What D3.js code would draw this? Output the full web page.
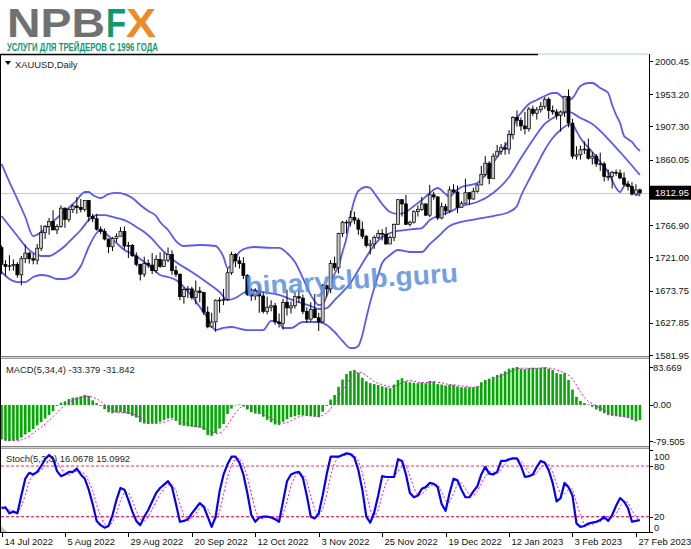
<!DOCTYPE html>
<html><head><meta charset="utf-8">
<script src="https://cdn.jsdelivr.net/npm/d3@7"></script>
<style>
html,body{margin:0;padding:0;background:#fff;}
svg{display:block;}
text{font-family:"Liberation Sans",Arial,sans-serif;}
</style></head><body>
<svg id="c" width="691" height="549"></svg>
<script>
// ---------- DATA ----------
const dateLabels = ["14 Jul 2022","5 Aug 2022","29 Aug 2022","20 Sep 2022","12 Oct 2022","3 Nov 2022","25 Nov 2022","19 Dec 2022","12 Jan 2023","3 Feb 2023","27 Feb 2023"];
const dateLabelBars = [0,16,32,48,64,80,96,112,128,144,160];

const open = [1735,1711,1708,1709,1711,1696,1719,1727,1719,1717,
1734,1756,1765,1772,1760,1765,1791,1775,1789,1794,
1792,1789,1802,1779,1776,1761,1758,1747,1736,1748,
1751,1758,1737,1738,1723,1711,1697,1712,1710,1702,
1718,1708,1717,1725,1702,1697,1665,1675,1676,1664,
1673,1671,1643,1622,1629,1660,1660,1661,1699,1725,
1716,1712,1695,1668,1666,1673,1666,1644,1650,1652,
1629,1627,1657,1649,1652,1665,1663,1644,1633,1647,
1635,1629,1681,1676,1712,1706,1755,1771,1771,1778,
1774,1761,1751,1738,1740,1749,1755,1754,1740,1749,
1768,1803,1797,1768,1771,1786,1789,1797,1781,1810,
1807,1777,1793,1787,1817,1814,1792,1798,1813,1804,
1815,1824,1839,1855,1833,1865,1872,1877,1875,1896,
1920,1916,1908,1904,1932,1926,1931,1936,1946,1930,
1928,1923,1928,1950,1912,1865,1867,1874,1875,1862,
1865,1854,1854,1836,1836,1842,1841,1834,1825,1822,
1811,1817];
const high = [1738,1717,1724,1718,1714,1723,1739,1729,1726,1740,
1767,1767,1777,1788,1768,1795,1792,1791,1796,1807,
1804,1802,1802,1783,1783,1765,1762,1748,1750,1755,
1764,1765,1743,1740,1728,1712,1722,1718,1727,1724,
1728,1728,1735,1731,1709,1698,1678,1680,1679,1688,
1679,1672,1651,1642,1661,1664,1676,1705,1729,1727,
1722,1721,1697,1677,1677,1682,1671,1665,1660,1656,
1641,1662,1675,1658,1671,1674,1668,1650,1657,1669,
1642,1683,1682,1717,1722,1756,1773,1774,1787,1786,
1777,1772,1753,1746,1752,1760,1761,1764,1752,1769,
1804,1804,1810,1773,1788,1795,1807,1798,1824,1814,
1808,1799,1797,1822,1825,1823,1801,1833,1814,1820,
1826,1851,1865,1858,1869,1881,1882,1885,1902,1922,
1930,1920,1928,1935,1937,1935,1942,1949,1949,1937,
1932,1930,1951,1960,1918,1879,1880,1886,1890,1871,
1868,1870,1857,1846,1844,1846,1846,1842,1830,1828,
1825,1819];
const low = [1697,1695,1702,1702,1692,1681,1713,1712,1711,1711,
1730,1747,1753,1760,1754,1763,1763,1771,1784,1783,
1785,1786,1772,1771,1759,1754,1745,1727,1730,1743,
1751,1732,1720,1722,1708,1688,1693,1706,1697,1699,
1706,1707,1714,1696,1693,1660,1655,1663,1661,1654,
1657,1639,1620,1621,1615,1642,1653,1659,1696,1707,
1705,1690,1666,1659,1660,1642,1641,1640,1644,1625,
1621,1618,1638,1641,1648,1656,1640,1628,1630,1635,
1616,1628,1665,1670,1702,1698,1750,1755,1765,1768,
1753,1747,1735,1725,1733,1747,1745,1739,1740,1744,
1767,1779,1767,1765,1769,1779,1787,1780,1778,1803,
1774,1775,1781,1784,1812,1784,1792,1797,1796,1803,
1813,1824,1836,1825,1833,1865,1867,1867,1868,1889,
1907,1901,1896,1900,1922,1917,1927,1932,1918,1924,
1917,1900,1921,1906,1861,1860,1860,1868,1860,1853,
1850,1844,1829,1830,1819,1837,1832,1822,1816,1809,
1808,1810];
const close = [1711,1708,1709,1711,1696,1719,1727,1719,1717,1734,
1756,1765,1772,1760,1765,1791,1775,1789,1794,1792,
1789,1802,1779,1776,1761,1758,1747,1736,1748,1751,
1758,1737,1738,1723,1711,1697,1712,1710,1702,1718,
1708,1717,1725,1702,1697,1665,1675,1676,1664,1673,
1671,1643,1622,1629,1660,1660,1661,1699,1725,1716,
1712,1695,1668,1666,1673,1666,1644,1650,1652,1629,
1627,1657,1649,1652,1665,1663,1644,1633,1647,1635,
1629,1681,1676,1712,1706,1755,1771,1771,1778,1774,
1761,1751,1738,1740,1749,1755,1754,1740,1749,1768,
1803,1797,1768,1771,1786,1789,1797,1781,1810,1807,
1777,1793,1787,1817,1814,1792,1798,1813,1804,1815,
1824,1839,1855,1833,1865,1872,1877,1875,1896,1920,
1916,1908,1904,1932,1926,1931,1936,1946,1930,1928,
1923,1928,1950,1912,1865,1867,1874,1875,1862,1865,
1854,1854,1836,1836,1842,1841,1834,1825,1822,1811,
1817,1812.95];

// Bollinger bands, read at selected bars
const upperBars = [0,2,4,6,8,10,12,14,16,18,19,20,21,22,23,24,25,27,29,31,33,35,37,39,40,42,44,46,50,54,55,56,57,58,59,60,62,64,68,70,72,74,76,78,80,81,82,83,84,85,86,87,88,89,90,92,93,94,96,98,100,102,104,106,108,110,112,113,114,116,118,120,122,124,126,128,130,131,133,135,137,139,140,142,143,144,146,148,149,151,153,154,155,156,157,158,159,160,161];
const bandUpper = [1853.9,1828.2,1804.0,1778.4,1751.3,1757.0,1767.0,1777.0,1786.9,1796.9,
1802.6,1809.7,1814.0,1814.0,1809.7,1806.9,1805.4,1811.1,1812.6,1811.1,
1805.4,1795.5,1786.9,1779.8,1771.3,1759.9,1744.2,1737.1,1738.5,1737.1,
1731.4,1721.4,1705.8,1710.0,1720.0,1728.6,1734.3,1735.7,1734.3,1734.3,
1727.1,1714.3,1691.5,1667.4,1653.1,1654.5,1665.9,1681.6,1697.3,1708.6,
1728.6,1748.5,1779.8,1802.6,1815.4,1821.1,1819.7,1812.6,1796.9,1785.5,
1782.7,1785.5,1794.1,1802.6,1812.6,1819.7,1811.1,1806.9,1812.6,1821.1,
1823.9,1826.8,1838.2,1855.3,1872.3,1888.0,1919.3,1926.4,1939.2,1944.9,
1950.6,1954.9,1954.9,1946.4,1944.9,1947.8,1964.9,1969.1,1969.1,1962.0,
1954.9,1937.8,1923.6,1912.2,1893.7,1889.4,1885.2,1878.0,1872.3];
const middleBars = [0,2,4,6,8,10,12,14,16,18,20,22,24,26,28,30,32,34,36,38,40,44,48,52,55,57,59,61,63,66,70,74,78,80,82,84,86,88,90,92,94,96,98,100,104,106,108,110,113,116,120,124,128,131,134,137,140,143,146,149,153,156,158,161];
const bandMiddle = [1779.8,1765.6,1751.3,1737.1,1727.1,1722.9,1722.9,1728.6,1737.1,1748.5,
1759.9,1774.1,1781.2,1781.2,1778.4,1775.6,1771.3,1764.2,1757.0,1747.1,
1734.3,1714.3,1700.1,1684.4,1671.6,1660.2,1663.1,1670.2,1674.5,1671.6,
1667.4,1658.8,1651.7,1647.4,1648.8,1660.2,1671.6,1684.4,1703.0,1721.4,
1738.5,1749.9,1755.6,1758.5,1761.3,1762.7,1774.1,1779.8,1785.5,1794.1,
1799.7,1812.6,1835.3,1862.4,1888.0,1910.8,1922.2,1927.9,1919.3,1910.8,
1889.4,1870.9,1858.1,1838.2];
const lowerBars = [0,2,4,6,8,10,12,14,16,18,20,22,24,25,27,29,31,33,35,37,39,40,42,44,46,48,50,52,53,54,56,58,62,66,68,70,71,73,76,80,82,84,86,88,89,90,91,92,93,94,95,96,98,100,103,106,108,110,113,116,120,124,128,130,131,133,135,137,139,141,143,144,145,146,149,151,153,155,156,157,158,159,160,161];
const bandLower = [1700.1,1690.1,1685.8,1685.8,1693.0,1695.8,1694.4,1690.1,1690.1,1694.4,
1708.6,1735.7,1755.6,1759.9,1751.3,1741.4,1731.4,1725.7,1718.6,1710.0,
1700.1,1695.8,1693.0,1688.7,1678.7,1665.9,1650.3,1634.6,1623.2,1617.5,
1620.4,1621.8,1617.5,1617.5,1630.4,1628.9,1620.4,1620.4,1628.9,1628.9,
1624.7,1614.7,1601.9,1591.9,1591.9,1594.8,1610.4,1634.6,1657.4,1677.3,
1695.8,1712.9,1724.3,1731.4,1728.6,1728.6,1739.9,1749.9,1765.6,1771.3,
1775.6,1779.8,1785.5,1794.1,1808.3,1831.0,1852.4,1873.8,1890.9,1902.2,
1909.4,1909.4,1900.8,1890.9,1870.9,1856.7,1842.4,1819.7,1814.0,1822.5,
1825.4,1818.2,1812.6,1808.3];

const macdMain = [-76,-79,-79.505,-79,-78,-72,-65,-60,-53,-45,
-38,-30,-22,-14,-2,5,8,13,16,17,
19,22,20,10,4,-2,-9,-16,-18,-17,
-16,-18,-20,-24,-28,-38,-41,-42,-41,-40,
-37,-33,-30,-29,-35,-44,-46,-47,-48,-49,
-50,-55,-66,-68,-62,-52,-42,-20,-8,0,
1,-3,-10,-16,-19,-20,-26,-33,-38,-43,
-44,-37,-31,-27,-25,-22,-23,-24,-25,-26,
-27,-15,-2,12,22,40,56,68,75,77,
71,60,52,48,46,44,41,39,37,45,
55,59,52,50,49,48,50,48,53,52,
46,45,43,45,44,41,39,39,39,39,
41,50,55,58,62,66,69,74,80,82,
83.669,80,79,81,82,81,82,83,80,77,
70,68,70,55,34,18,9,4,1,-4,
-10,-14,-18,-22,-24,-25,-26,-27,-29,-33,
-36,-33.379];
const macdSignal = [-70,-74,-77,-78.5,-79,-77,-73.5,-69,-62,-56,
-49,-42,-34,-26,-17,-8,-1,6,10,13,
16,18.5,19.5,17,14,8,1,-6,-11,-15,
-17,-17,-18,-19.5,-22.5,-27.5,-33,-37,-40.5,-41,
-40,-38,-35,-32,-32,-34.5,-38.5,-43,-46,-47.5,
-48.5,-50.5,-55,-60,-63,-62,-56,-44,-30.5,-17.5,
-7,-2.5,-3,-7,-12,-16.5,-20,-24.5,-29,-35,
-39.5,-40.5,-39,-35,-30,-26,-24,-23.5,-23.5,-24.5,
-25.5,-23,-17.5,-8,4,18,32.5,46.5,60,69,
73,71,65,58,51.5,47.5,45,42.5,40,40.5,
44,49,53,54,52.5,50,49,49,50,51,
50,49,46.5,45,44.5,43.5,42,41,39.5,39,
39.5,42,46,51,56,60,64,68,72,76,
80,81,81,81,80.5,81,81.5,82,81.5,80.5,
77.5,74,71,66,57,44,29,16,8,2.5,
-2,-7,-11.5,-16,-19.5,-22,-24,-25.5,-26.5,-28.5,
-31,-31.842];

const stochK = [30,31,24,26,24,45,65,72,70,73,
80,88,93,89,74,68,70,73,73,77,
70,65,52,35,15,10,7,9,22,40,
54,52,40,26,15,10,20,28,38,48,
54,58,62,55,35,14,15,17,24,30,
36,32,20,8,20,50,70,82,91,91,
84,70,48,22,14,19,20,20,19,17,
14,38,62,70,72,73,66,45,20,18,
24,45,70,91,91,91,93,95,94,90,
75,52,20,13,25,45,68,67,67,67,
88,86,70,48,43,45,53,55,60,59,
55,35,27,48,65,63,52,43,43,50,
56,70,79,71,70,73,86,86,88,89,
89,80,67,68,70,79,86,84,75,60,
38,42,60,55,45,12,8,9,12,13,
14,16,20,15,22,33,42,38,30,14,
15,16.0678];
const stochD = [32,30,28,27,25,32,46,62,70,72,
75,81,87,90,85,77,71,70,72,74,
73,71,62,51,34,20,11,9,13,24,
39,49,49,39,27,17,15,19,29,38,
47,53,58,58,51,35,21,15,19,24,
30,33,29,20,16,26,47,67,81,88,
89,82,67,47,28,18,18,20,20,19,
17,23,38,57,68,72,70,62,44,28,
21,29,46,69,84,91,92,93,94,93,
86,72,49,28,19,28,46,60,67,67,
74,80,81,68,54,45,47,51,56,58,
58,50,39,37,47,59,60,53,46,45,
50,59,68,73,73,71,76,82,87,88,
89,86,79,72,68,72,78,83,82,73,
58,47,47,52,53,37,22,10,10,11,
13,14,17,17,19,23,32,38,37,27,
20,15.0992];

const priceTicks = [2000.45,1953.20,1907.30,1860.05,1766.90,1721.00,1673.75,1627.85,1581.95];
const currentPrice = 1812.95;
const macdTicks = [83.669,0,-79.505];
const macdTickText = ["83.669","0.00","-79.505"];
const stochTicks = [100,80,20,0];
const stochLevels = [80,20];

// ---------- LAYOUT ----------
const svg = d3.select("#c");
const AX = 649;
const x = d3.scaleLinear().domain([0,161]).range([1.5,639.9]);
const yP = d3.scaleLinear().domain([1581.95,2000.45]).range([355,61]);
const yM = d3.scaleLinear().domain([-79.505,83.669]).range([441,367]);
const yS = d3.scaleLinear().domain([0,100]).range([533.6,449.1]);
const FONT = 9.4;
const bars = d3.range(close.length);

const defs = svg.append("defs");
defs.append("clipPath").attr("id","cm").append("rect").attr("x",1).attr("y",55).attr("width",AX-1).attr("height",301);
defs.append("clipPath").attr("id","cd").append("rect").attr("x",1).attr("y",359).attr("width",AX-1).attr("height",87);
defs.append("clipPath").attr("id","cs").append("rect").attr("x",1).attr("y",449).attr("width",AX-1).attr("height",84);

// ---------- LOGO ----------
const logo = svg.append("text").attr("y",37).attr("font-family","DejaVu Sans").attr("font-weight","bold").attr("font-size",41);
logo.append("tspan").attr("x",7).attr("fill","#717171").attr("textLength",98).attr("lengthAdjust","spacingAndGlyphs").text("NPB");
logo.append("tspan").attr("x",106).attr("fill","#0e9a6c").attr("textLength",20).attr("lengthAdjust","spacingAndGlyphs").text("F");
logo.append("tspan").attr("x",126).attr("fill","#f08a24").attr("textLength",30).attr("lengthAdjust","spacingAndGlyphs").text("X");
svg.append("text").attr("x",7).attr("y",50.5).attr("font-weight","bold").attr("font-size",10.5)
  .attr("fill","#0e9a6c").attr("textLength",151).attr("lengthAdjust","spacingAndGlyphs").text("УСЛУГИ ДЛЯ ТРЕЙДЕРОВ С 1996 ГОДА");

// ---------- FRAME ----------
svg.append("line").attr("x1",0).attr("x2",538).attr("y1",54.5).attr("y2",54.5).attr("stroke","#000").attr("stroke-width",1.5);
svg.append("line").attr("x1",538).attr("x2",AX).attr("y1",54).attr("y2",54).attr("stroke","#9fd4f2").attr("stroke-width",1);
svg.append("line").attr("x1",0.5).attr("x2",0.5).attr("y1",54).attr("y2",533).attr("stroke","#000");
svg.append("line").attr("x1",AX+0.5).attr("x2",AX+0.5).attr("y1",54).attr("y2",533).attr("stroke","#000");
svg.append("line").attr("x1",0).attr("x2",AX+1).attr("y1",532.5).attr("y2",532.5).attr("stroke","#000");
[356,446].forEach(yy=>{
  svg.append("rect").attr("x",1).attr("y",yy).attr("width",AX-1).attr("height",3).attr("fill","#d4d4d4");
  svg.append("line").attr("x1",1).attr("x2",AX).attr("y1",yy+0.5).attr("y2",yy+0.5).attr("stroke","#808080");
  svg.append("line").attr("x1",1).attr("x2",AX).attr("y1",yy+2.5).attr("y2",yy+2.5).attr("stroke","#a0a0a0");
});

// ---------- MAIN PANEL ----------
const gm = svg.append("g").attr("clip-path","url(#cm)");
gm.append("line").attr("x1",0).attr("x2",AX).attr("y1",Math.round(yP(currentPrice))+0.5).attr("y2",Math.round(yP(currentPrice))+0.5)
  .attr("stroke","#c8c8c8");

const bandLine = (idx, arr) => d3.line().x((d,k)=>x(idx[k])).y(d=>yP(d)).curve(d3.curveMonotoneX)(arr);
[[upperBars,bandUpper],[middleBars,bandMiddle],[lowerBars,bandLower]].forEach(([idx,arr])=>{
  gm.append("path").attr("d",bandLine(idx,arr)).attr("fill","none").attr("stroke","#5a5af5").attr("stroke-width",1.8);
});

const cg = gm.append("g");
bars.forEach(i=>{
  const cx = x(i);
  cg.append("line").attr("x1",cx).attr("x2",cx).attr("y1",yP(high[i])).attr("y2",yP(low[i])).attr("stroke","#000").attr("stroke-width",1);
  const bull = close[i] >= open[i];
  const top = yP(Math.max(open[i],close[i])), bot = yP(Math.min(open[i],close[i]));
  cg.append("rect").attr("x",cx-1.5).attr("y",top).attr("width",3).attr("height",Math.max(0.8,bot-top))
    .attr("fill",bull?"#c8c8c8":"#000").attr("stroke","#000").attr("stroke-width",0.7);
});

// watermark
svg.append("text").attr("transform","translate(246,296) rotate(-3.8)")
  .attr("font-family","DejaVu Sans").attr("font-weight","bold").attr("font-size",27).attr("fill","#5a8ede").attr("fill-opacity",0.85)
  .attr("textLength",213).attr("lengthAdjust","spacingAndGlyphs").text("binaryclub.guru");

// title
svg.append("path").attr("d","M5,61 L11,61 L8,65 Z").attr("fill","#000");
svg.append("text").attr("x",15).attr("y",64).attr("dominant-baseline","central").attr("font-size",FONT).attr("fill","#1e1e1e").text("XAUUSD,Daily");

// price axis
priceTicks.forEach(v=>{
  const yy = yP(v);
  svg.append("line").attr("x1",AX).attr("x2",AX+4).attr("y1",Math.round(yy)+0.5).attr("y2",Math.round(yy)+0.5).attr("stroke","#000");
  svg.append("text").attr("x",655).attr("y",yy).attr("dominant-baseline","central").attr("font-size",FONT).attr("fill","#111").text(d3.format(".2f")(v));
});
svg.append("rect").attr("x",AX+1).attr("y",yP(currentPrice)-7).attr("width",41).attr("height",14).attr("fill","#000");
svg.append("text").attr("x",655).attr("y",yP(currentPrice)).attr("dominant-baseline","central").attr("font-size",FONT).attr("fill","#fff").text(d3.format(".2f")(currentPrice));

// ---------- MACD PANEL ----------
const gd = svg.append("g").attr("clip-path","url(#cd)");
bars.forEach(i=>{
  const v = macdMain[i];
  const y0 = yM(0), y1 = yM(v);
  gd.append("rect").attr("x",x(i)-1.3).attr("y",Math.min(y0,y1)).attr("width",2.6).attr("height",Math.max(0.5,Math.abs(y1-y0))).attr("fill","#00aa00");
});
gd.append("path").attr("d",d3.line().x((d,i)=>x(i)).y(d=>yM(d))(macdSignal)).attr("fill","none")
  .attr("stroke","#ff00ff").attr("stroke-width",1).attr("stroke-dasharray","2,2");
svg.append("text").attr("x",6).attr("y",369).attr("dominant-baseline","central").attr("font-size",FONT).attr("fill","#1e1e1e")
  .text("MACD(5,34,4) " + macdMain[macdMain.length-1].toFixed(3) + " " + macdSignal[macdSignal.length-1].toFixed(3));
macdTicks.forEach((v,k)=>{
  const yy = yM(v);
  svg.append("line").attr("x1",AX).attr("x2",AX+4).attr("y1",Math.round(yy)+0.5).attr("y2",Math.round(yy)+0.5).attr("stroke","#000");
  svg.append("text").attr("x",653).attr("y",yy).attr("dominant-baseline","central").attr("font-size",FONT).attr("fill","#111").text(macdTickText[k]);
});

// ---------- STOCH PANEL ----------
const gs = svg.append("g").attr("clip-path","url(#cs)");
stochLevels.forEach(v=>{
  gs.append("line").attr("x1",1).attr("x2",AX).attr("y1",yS(v)).attr("y2",yS(v)).attr("stroke","#ff2a55").attr("stroke-width",1.2).attr("stroke-dasharray","3,2");
});
gs.append("path").attr("d",d3.line().x((d,i)=>x(i)).y(d=>yS(d))(stochD)).attr("fill","none")
  .attr("stroke","#ff00ff").attr("stroke-width",1).attr("stroke-dasharray","2,2");
gs.append("path").attr("d",d3.line().x((d,i)=>x(i)).y(d=>yS(d))(stochK)).attr("fill","none")
  .attr("stroke","#0000ff").attr("stroke-width",2.2).attr("stroke-linejoin","round");
svg.append("text").attr("x",6).attr("y",458).attr("dominant-baseline","central").attr("font-size",FONT).attr("fill","#1e1e1e")
  .text("Stoch(5,3,3) " + stochK[stochK.length-1].toFixed(4) + " " + stochD[stochD.length-1].toFixed(4));
const stochLabelY = {100:456, 80:yS(80), 20:yS(20), 0:527};
stochTicks.forEach(v=>{
  const yy = Math.round(Math.min(532,Math.max(450,yS(v))))+0.5;
  svg.append("line").attr("x1",AX).attr("x2",AX+4).attr("y1",yy).attr("y2",yy).attr("stroke","#000");
  svg.append("text").attr("x",654).attr("y",stochLabelY[v]).attr("dominant-baseline","central").attr("font-size",FONT).attr("fill","#111").text(v);
});
svg.append("path").attr("d","M1,532 L1,526 L7,532 Z").attr("fill","#c0c0c0");

// ---------- X AXIS ----------
dateLabelBars.forEach((b,k)=>{
  const xx = Math.round(x(b))+0.5;
  svg.append("line").attr("x1",xx).attr("x2",xx).attr("y1",533).attr("y2",537).attr("stroke","#000");
  svg.append("text").attr("x",xx+2).attr("y",541).attr("dominant-baseline","central").attr("font-size",FONT).attr("fill","#111").text(dateLabels[k]);
});
</script>
</body></html>
